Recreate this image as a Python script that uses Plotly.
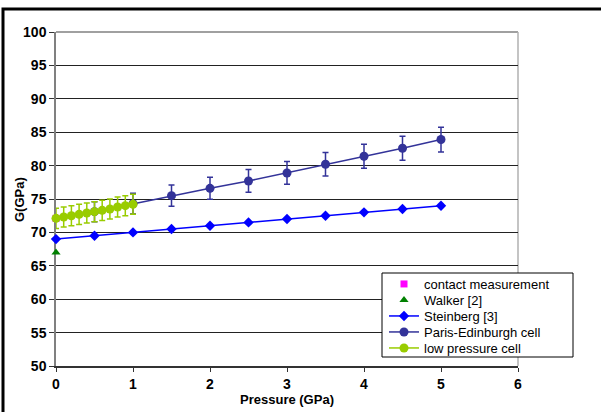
import plotly.graph_objects as go

# Data
contact_x = [0]
contact_y = [72.1]

walker_x = [0]
walker_y = [67.0]

steinberg_x = [0, 0.5, 1, 1.5, 2, 2.5, 3, 3.5, 4, 4.5, 5]
steinberg_y = [69.0, 69.5, 70.0, 70.5, 71.0, 71.5, 72.0, 72.5, 73.0, 73.5, 74.0]

pe_x = [0.5, 1, 1.5, 2, 2.5, 3, 3.5, 4, 4.5, 5]
pe_y = [73.1, 74.3, 75.5, 76.6, 77.7, 78.9, 80.2, 81.4, 82.6, 83.9]
pe_err = [1.5, 1.55, 1.6, 1.65, 1.7, 1.7, 1.75, 1.8, 1.8, 1.85]

lp_x = [0, 0.1, 0.2, 0.3, 0.4, 0.5, 0.6, 0.7, 0.8, 0.9, 1.0]
lp_y = [72.1, 72.3, 72.5, 72.7, 72.9, 73.1, 73.3, 73.5, 73.8, 74.0, 74.2]
lp_err = [1.5] * len(lp_x)

x_ticks = [0, 1, 2, 3, 4, 5, 6]
y_ticks = [50, 55, 60, 65, 70, 75, 80, 85, 90, 95, 100]

FONT = "Arial, Liberation Sans, sans-serif"

L, R, T, B = 56, 83, 32, 46
W, H = 601, 412
pw = W - L - R
ph = H - T - B


def px2paper_x(p):
    return (p - L) / pw


def px2paper_y(p):
    return (H - B - p) / ph


fig = go.Figure()
fig.add_trace(go.Scatter(x=contact_x, y=contact_y, mode="markers", name="contact measurement",
                         cliponaxis=False, legend="legend",
                         marker=dict(symbol="square", size=7, color="#FF00FF")))
fig.add_trace(go.Scatter(x=walker_x, y=walker_y, mode="markers", name="Walker [2]",
                         cliponaxis=False, legend="legend2",
                         marker=dict(symbol="triangle-up", size=8, color="#008000")))
fig.add_trace(go.Scatter(x=steinberg_x, y=steinberg_y, mode="lines+markers", name="Steinberg [3]",
                         cliponaxis=False, legend="legend3",
                         line=dict(color="#0000FF", width=1.5),
                         marker=dict(symbol="diamond", size=8, color="#0000FF")))
fig.add_trace(go.Scatter(x=pe_x, y=pe_y, mode="lines+markers", name="Paris-Edinburgh cell",
                         cliponaxis=False, legend="legend4",
                         line=dict(color="#333399", width=1.5),
                         marker=dict(symbol="circle", size=9, color="#333399"),
                         error_y=dict(type="data", array=pe_err, color="#333399", thickness=1.5, width=3)))
fig.add_trace(go.Scatter(x=lp_x, y=lp_y, mode="lines+markers", name="low pressure cell",
                         cliponaxis=False, legend="legend5",
                         line=dict(color="#99CC00", width=1.5),
                         marker=dict(symbol="circle", size=9, color="#99CC00"),
                         error_y=dict(type="data", array=lp_err, color="#99CC00", thickness=1.5, width=3)))

legend_rows = [284, 300, 316, 332, 348]
legend_common = dict(xanchor="left", yanchor="middle", bgcolor="rgba(0,0,0,0)", borderwidth=0,
                     font=dict(family=FONT, size=13, color="black"), tracegroupgap=0,
                     itemwidth=30)
legends = {}
for i, ry in enumerate(legend_rows):
    key = "legend" if i == 0 else "legend%d" % (i + 1)
    legends[key] = dict(x=px2paper_x(384), y=px2paper_y(ry), **legend_common)

fig.update_layout(
    width=W, height=H,
    margin=dict(l=L, r=R, t=T, b=B, autoexpand=False),
    paper_bgcolor="white", plot_bgcolor="white",
    font=dict(family=FONT, size=12, color="black"),
    showlegend=True,
    xaxis=dict(range=[0, 6], tickvals=x_ticks, showgrid=False, zeroline=False, automargin=False,
               showline=True, linecolor="#333333", linewidth=1.5, mirror=False,
               ticks="outside", ticklen=4, tickcolor="#333333", layer="below traces",
               tickfont=dict(family=FONT, size=14, weight="bold"),
               title=dict(text="Pressure (GPa)", standoff=0,
                          font=dict(family=FONT, size=13, weight="bold"))),
    yaxis=dict(range=[50, 100], tickvals=y_ticks, showgrid=True, gridcolor="#222222", gridwidth=1,
               zeroline=False, showline=True, linecolor="#808080", linewidth=1.5, automargin=False,
               ticks="outside", ticklen=5, tickcolor="#333333", layer="below traces",
               tickfont=dict(family=FONT, size=14, weight="bold")),
    **legends,
)

# y-axis title
fig.add_annotation(text="<b>G(GPa)</b>", textangle=-90, xref="paper", yref="paper",
                   x=px2paper_x(19), y=px2paper_y(200), xanchor="center", yanchor="middle",
                   showarrow=False, font=dict(family=FONT, size=13, color="black"))

# plot-area top/right border (gray)
fig.add_shape(type="line", xref="paper", yref="paper", x0=0, x1=1, y0=1, y1=1,
              line=dict(color="#808080", width=1.5), layer="below")
fig.add_shape(type="line", xref="paper", yref="paper", x0=1, x1=1, y0=0, y1=1,
              line=dict(color="#B0B0B0", width=1.5), layer="below")
# legend box
fig.add_shape(type="rect", xref="paper", yref="paper",
              x0=px2paper_x(382), x1=px2paper_x(573), y0=px2paper_y(273), y1=px2paper_y(357),
              line=dict(color="black", width=1), fillcolor="white", layer="above")
# outer black frame
fig.add_shape(type="rect", xref="paper", yref="paper",
              x0=px2paper_x(3), x1=px2paper_x(603), y0=px2paper_y(9), y1=px2paper_y(415),
              line=dict(color="black", width=3), layer="above")

fig.write_html("out.html", config={"displayModeBar": False},
               post_script="document.body.style.margin='0';")
